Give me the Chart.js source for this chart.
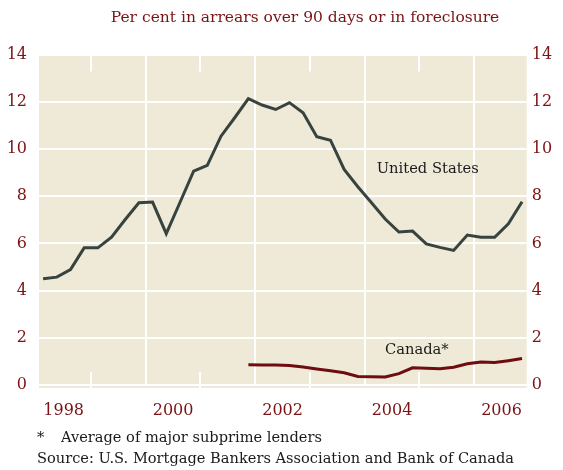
<!DOCTYPE html>
<html>
<head>
<meta charset="utf-8">
<script src="https://cdn.jsdelivr.net/npm/chart.js@4.4.1/dist/chart.umd.min.js"></script>
<style>
  body { margin: 0; background: #fff; }
  #wrap { width: 563px; height: 470px; }
</style>
</head>
<body>
<div id="wrap"><canvas id="chart"></canvas></div>
<script>
// quarterly observations, 1998Q1 .. 2006Q4
const quarters = [
  '1998Q1','1998Q2','1998Q3','1998Q4','1999Q1','1999Q2','1999Q3','1999Q4',
  '2000Q1','2000Q2','2000Q3','2000Q4','2001Q1','2001Q2','2001Q3','2001Q4',
  '2002Q1','2002Q2','2002Q3','2002Q4','2003Q1','2003Q2','2003Q3','2003Q4',
  '2004Q1','2004Q2','2004Q3','2004Q4','2005Q1','2005Q2','2005Q3','2005Q4',
  '2006Q1','2006Q2','2006Q3','2006Q4'
];
const usRates = [
  4.50, 4.57, 4.89, 5.81, 5.81, 6.26, 7.01, 7.72,
  7.75, 6.41, 7.73, 9.06, 9.30, 10.54, 11.32, 12.13,
  11.86, 11.67, 11.96, 11.53, 10.52, 10.37, 9.13, 8.40,
  7.72, 7.03, 6.48, 6.52, 5.98, 5.83, 5.70, 6.35,
  6.26, 6.26, 6.83, 7.76
];
// Canada series starts in 2001Q4
const canadaStart = '2001Q4';
const canadaRates = [
  0.86, 0.85, 0.85, 0.83, 0.76, 0.68, 0.60, 0.52,
  0.36, 0.35, 0.34, 0.48, 0.73, 0.71, 0.69, 0.75,
  0.90, 0.97, 0.95, 1.03, 1.12
];
const yTicks = [0, 2, 4, 6, 8, 10, 12, 14];
const yearLabels = [1998, 2000, 2002, 2004, 2006];
const gridYears = [2000, 2002, 2004, 2006];
const minorYears = [1999, 2001, 2003, 2005];

const titleText = 'Per cent in arrears over 90 days or in foreclosure';
const footnote = 'Average of major subprime lenders';
const sourceText = 'Source: U.S. Mortgage Bankers Association and Bank of Canada';

const RED = '#7a1315';
const SERIF = "'DejaVu Serif', serif";

function quarterToYear(q) {
  const yr = parseInt(q.slice(0, 4));
  const n = parseInt(q.slice(5));
  return yr + (n - 0.5) / 4;
}

const usPoints = quarters.map((q, i) => ({ x: quarterToYear(q), y: usRates[i] }));
const caOffset = quarters.indexOf(canadaStart);
const caPoints = canadaRates.map((v, i) => ({ x: quarterToYear(quarters[caOffset + i]), y: v }));

const decor = {
  id: 'decor',
  beforeDraw(chart) {
    const { ctx, chartArea: a } = chart;
    ctx.save();
    ctx.fillStyle = '#efe9d7';
    ctx.fillRect(a.left, a.top + 1, a.right - a.left, a.bottom - a.top + 2);
    ctx.restore();
  },
  beforeDatasetsDraw(chart) {
    // short white ticks for the odd years, top and bottom
    const { ctx, chartArea: a, scales } = chart;
    ctx.save();
    ctx.strokeStyle = '#fff';
    ctx.lineWidth = 2;
    minorYears.forEach(yr => {
      const px = Math.round(scales.x.getPixelForValue(yr));
      ctx.beginPath();
      ctx.moveTo(px, a.top);
      ctx.lineTo(px, a.top + 17);
      ctx.moveTo(px, a.bottom - 13);
      ctx.lineTo(px, a.bottom + 3);
      ctx.stroke();
    });
    ctx.restore();
  },
  afterDraw(chart) {
    const { ctx, scales } = chart;
    ctx.save();
    ctx.textBaseline = 'alphabetic';
    ctx.fillStyle = RED;
    ctx.font = '15.5px ' + SERIF;
    ctx.textAlign = 'center';
    ctx.fillText(titleText, 305, 22);

    ctx.textAlign = 'left';
    ctx.fillStyle = '#1a1a1a';
    ctx.font = '14.7px ' + SERIF;
    ctx.textBaseline = 'middle';
    ctx.fillText('United States', scales.x.getPixelForValue(2004.22), scales.y.getPixelForValue(9.15));
    ctx.fillText('Canada*', scales.x.getPixelForValue(2004.37), scales.y.getPixelForValue(1.48));

    ctx.font = '14.6px ' + SERIF;
    ctx.textBaseline = 'alphabetic';
    ctx.fillText('*', 37, 442);
    ctx.fillText(footnote, 61, 442);
    ctx.fillText(sourceText, 37, 463);
    ctx.restore();
  }
};

const ctx = document.getElementById('chart').getContext('2d');
new Chart(ctx, {
  type: 'line',
  data: {
    datasets: [
      {
        label: 'United States',
        data: usPoints,
        borderColor: '#37433f',
        borderWidth: 3,
        pointRadius: 0,
        tension: 0,
        xAxisID: 'x',
        yAxisID: 'y'
      },
      {
        label: 'Canada*',
        data: caPoints,
        borderColor: '#6e0c10',
        borderWidth: 3,
        pointRadius: 0,
        tension: 0,
        xAxisID: 'x',
        yAxisID: 'y'
      }
    ]
  },
  plugins: [decor],
  options: {
    responsive: true,
    maintainAspectRatio: false,
    animation: false,
    layout: { padding: { top: 54.5, bottom: 50, left: 0, right: 0 } },
    plugins: {
      legend: { display: false },
      tooltip: { enabled: false },
      title: { display: false }
    },
    scales: {
      x: {
        type: 'linear',
        min: 1998.05,
        max: 2006.96,
        afterBuildTicks: s => { s.ticks = gridYears.map(v => ({ value: v })); },
        afterFit: s => { s.height = 0; },
        ticks: { display: false },
        grid: { color: '#fff', lineWidth: 2, drawTicks: false },
        border: { display: false }
      },
      xLabels: {
        type: 'linear',
        position: 'bottom',
        min: 1998.05,
        max: 2006.96,
        afterBuildTicks: s => { s.ticks = yearLabels.map(v => ({ value: v + 0.5 })); },
        afterFit: s => { s.height = 35; },
        ticks: {
          color: RED,
          font: { family: SERIF, size: 16 },
          padding: 16,
          maxRotation: 0,
          callback: v => String(Math.floor(v))
        },
        grid: { display: false, drawTicks: false },
        border: { display: false }
      },
      y: {
        position: 'left',
        min: 0,
        max: 14,
        afterBuildTicks: s => { s.ticks = yTicks.map(v => ({ value: v })); },
        afterFit: s => { s.width = 39; },
        ticks: { color: RED, font: { family: SERIF, size: 16 }, padding: 12 },
        grid: { color: '#fff', lineWidth: 2, drawTicks: false },
        border: { display: false }
      },
      y2: {
        position: 'right',
        min: 0,
        max: 14,
        afterBuildTicks: s => { s.ticks = yTicks.map(v => ({ value: v })); },
        afterFit: s => { s.width = 36.3; },
        ticks: { color: RED, font: { family: SERIF, size: 16 }, padding: 5 },
        grid: { display: false, drawTicks: false },
        border: { display: false }
      }
    }
  }
});
</script>
</body>
</html>
